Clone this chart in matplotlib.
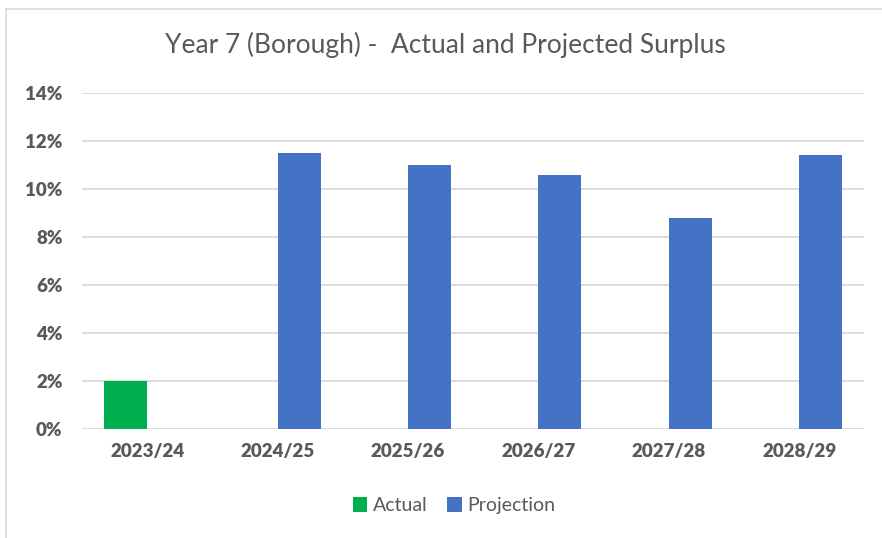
import numpy as np
import matplotlib.pyplot as plt
from matplotlib.lines import Line2D

years = ['2023/24', '2024/25', '2025/26', '2026/27', '2027/28', '2028/29']
actual = [2.0, np.nan, np.nan, np.nan, np.nan, np.nan]
projection = [np.nan, 11.5, 11.0, 10.6, 8.8, 11.4]
yticks = [0, 2, 4, 6, 8, 10, 12, 14]

GREEN = '#00b050'
BLUE = '#4472c4'
GREY_TEXT = '#595959'
GRID = '#d9d9d9'

plt.rcParams['font.family'] = ['Lato', 'DejaVu Sans']

fig = plt.figure(figsize=(8.82, 5.38), dpi=100)
ax = fig.add_axes([0.093, 0.2026, 0.887, 0.6245])

x = np.arange(len(years))
w = 0.33
ax.bar(x - w / 2, actual, width=w, color=GREEN, label='Actual', zorder=3)
ax.bar(x + w / 2, projection, width=w, color=BLUE, label='Projection', zorder=3)

ax.set_xlim(-0.5, len(years) - 0.5)
ax.set_ylim(0, 14)
ax.set_yticks(yticks)
ax.set_yticklabels([f'{t}%' for t in yticks])
ax.set_xticks(x)
ax.set_xticklabels(years)
ax.yaxis.grid(True, color=GRID, linewidth=1.3, zorder=0)
ax.tick_params(length=0, labelsize=13.5, labelcolor=GREY_TEXT)
ax.tick_params(axis='y', pad=14)
ax.tick_params(axis='x', pad=10)
for lbl in ax.get_xticklabels() + ax.get_yticklabels():
    lbl.set_fontweight('heavy')
for s in ax.spines.values():
    s.set_visible(False)

fig.text(0.505, 0.916, 'Year 7 (Borough) -  Actual and Projected Surplus',
         ha='center', va='center', fontsize=19, color=GREY_TEXT)

leg = fig.legend(loc='center', bbox_to_anchor=(0.515, 0.06), ncol=2, frameon=False,
                 fontsize=14, handlelength=0.75, handleheight=0.75,
                 handletextpad=0.3, columnspacing=1.0)
for t in leg.get_texts():
    t.set_color(GREY_TEXT)

# light outer frame of the chart area
fig.add_artist(Line2D([6 / 882, 6 / 882], [0, 1 - 9 / 538], color=GRID, lw=1.2))
fig.add_artist(Line2D([6 / 882, 1], [1 - 9 / 538, 1 - 9 / 538], color=GRID, lw=1.2))

fig.savefig('out.png', dpi=100)
